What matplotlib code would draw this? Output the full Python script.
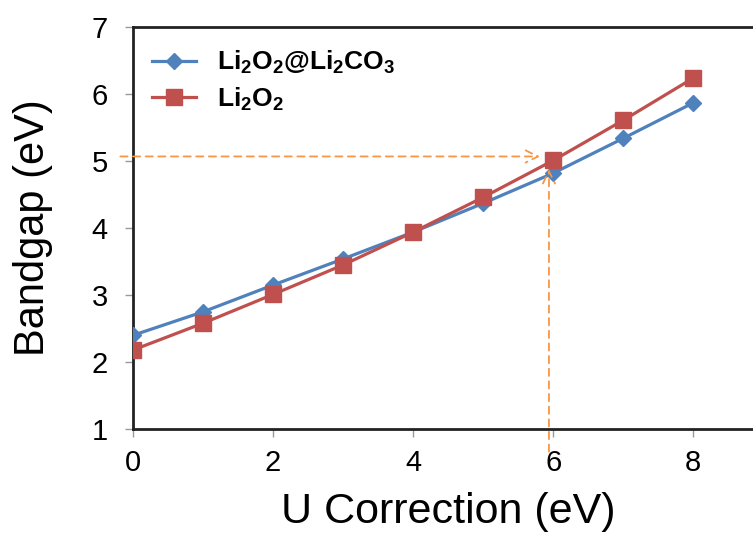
import matplotlib
matplotlib.use("Agg")
import matplotlib.pyplot as plt

plt.rcParams['font.family'] = ['Liberation Sans', 'DejaVu Sans']
plt.rcParams['mathtext.fontset'] = 'custom'
plt.rcParams['mathtext.rm'] = 'Liberation Sans:bold'
plt.rcParams['mathtext.it'] = 'Liberation Sans:bold'
plt.rcParams['mathtext.bf'] = 'Liberation Sans:bold'

# data
u_values = [0, 1, 2, 3, 4, 5, 6, 7, 8]
gap_coated = [2.40, 2.75, 3.15, 3.54, 3.94, 4.37, 4.82, 5.34, 5.87]
gap_bare = [2.18, 2.58, 3.01, 3.45, 3.94, 4.46, 5.01, 5.61, 6.24]
label_coated = 'Li$_2$O$_2$@Li$_2$CO$_3$'
label_bare = 'Li$_2$O$_2$'
x_ticks = [0, 2, 4, 6, 8]
y_ticks = [1, 2, 3, 4, 5, 6, 7]

# guide arrows (U = 6 reading)
guide_y = 5.07
guide_x = 5.94

blue = '#4F81BD'
red = '#C0504D'
orange = '#F79646'

fig = plt.figure(figsize=(7.53, 5.33), dpi=100)
ax = fig.add_axes([0.1766, 0.195, 0.837, 0.754])

ax.plot(u_values, gap_coated, color=blue, lw=2.3, marker='D', ms=8,
        label=label_coated, zorder=3)
ax.plot(u_values, gap_bare, color=red, lw=2.3, marker='s', ms=11,
        label=label_bare, zorder=4)

# dashed orange guides with open arrowheads
ax.annotate('', xy=(5.85, guide_y), xytext=(-0.22, guide_y),
            arrowprops=dict(arrowstyle='->', color=orange, lw=1.3,
                            linestyle=(0, (4, 3)), mutation_scale=22),
            annotation_clip=False, zorder=5)
ax.annotate('', xy=(guide_x, 4.92), xytext=(guide_x, 0.62),
            arrowprops=dict(arrowstyle='->', color=orange, lw=1.3,
                            linestyle=(0, (4, 3)), mutation_scale=22),
            annotation_clip=False, zorder=5)

ax.set_xlim(0, 9)
ax.set_ylim(1, 7)
ax.set_xticks(x_ticks)
ax.set_yticks(y_ticks)
ax.tick_params(axis='both', labelsize=21, color='#999999', length=6,
               width=1, direction='out')
ax.tick_params(axis='x', pad=8)
ax.tick_params(axis='y', pad=12)

ax.set_xlabel('U Correction (eV)', fontsize=31, labelpad=11)
ax.set_ylabel('Bandgap (eV)', fontsize=30, labelpad=28)

for side in ['left', 'bottom', 'top', 'right']:
    ax.spines[side].set_linewidth(2)
    ax.spines[side].set_color('#222222')

ax.legend(loc='upper left', bbox_to_anchor=(0.005, 0.985), frameon=False,
          handlelength=1.65, prop={'weight': 'bold', 'size': 19},
          borderaxespad=0.2, labelspacing=0.35, handletextpad=0.8)

fig.savefig('out.png', dpi=100)
